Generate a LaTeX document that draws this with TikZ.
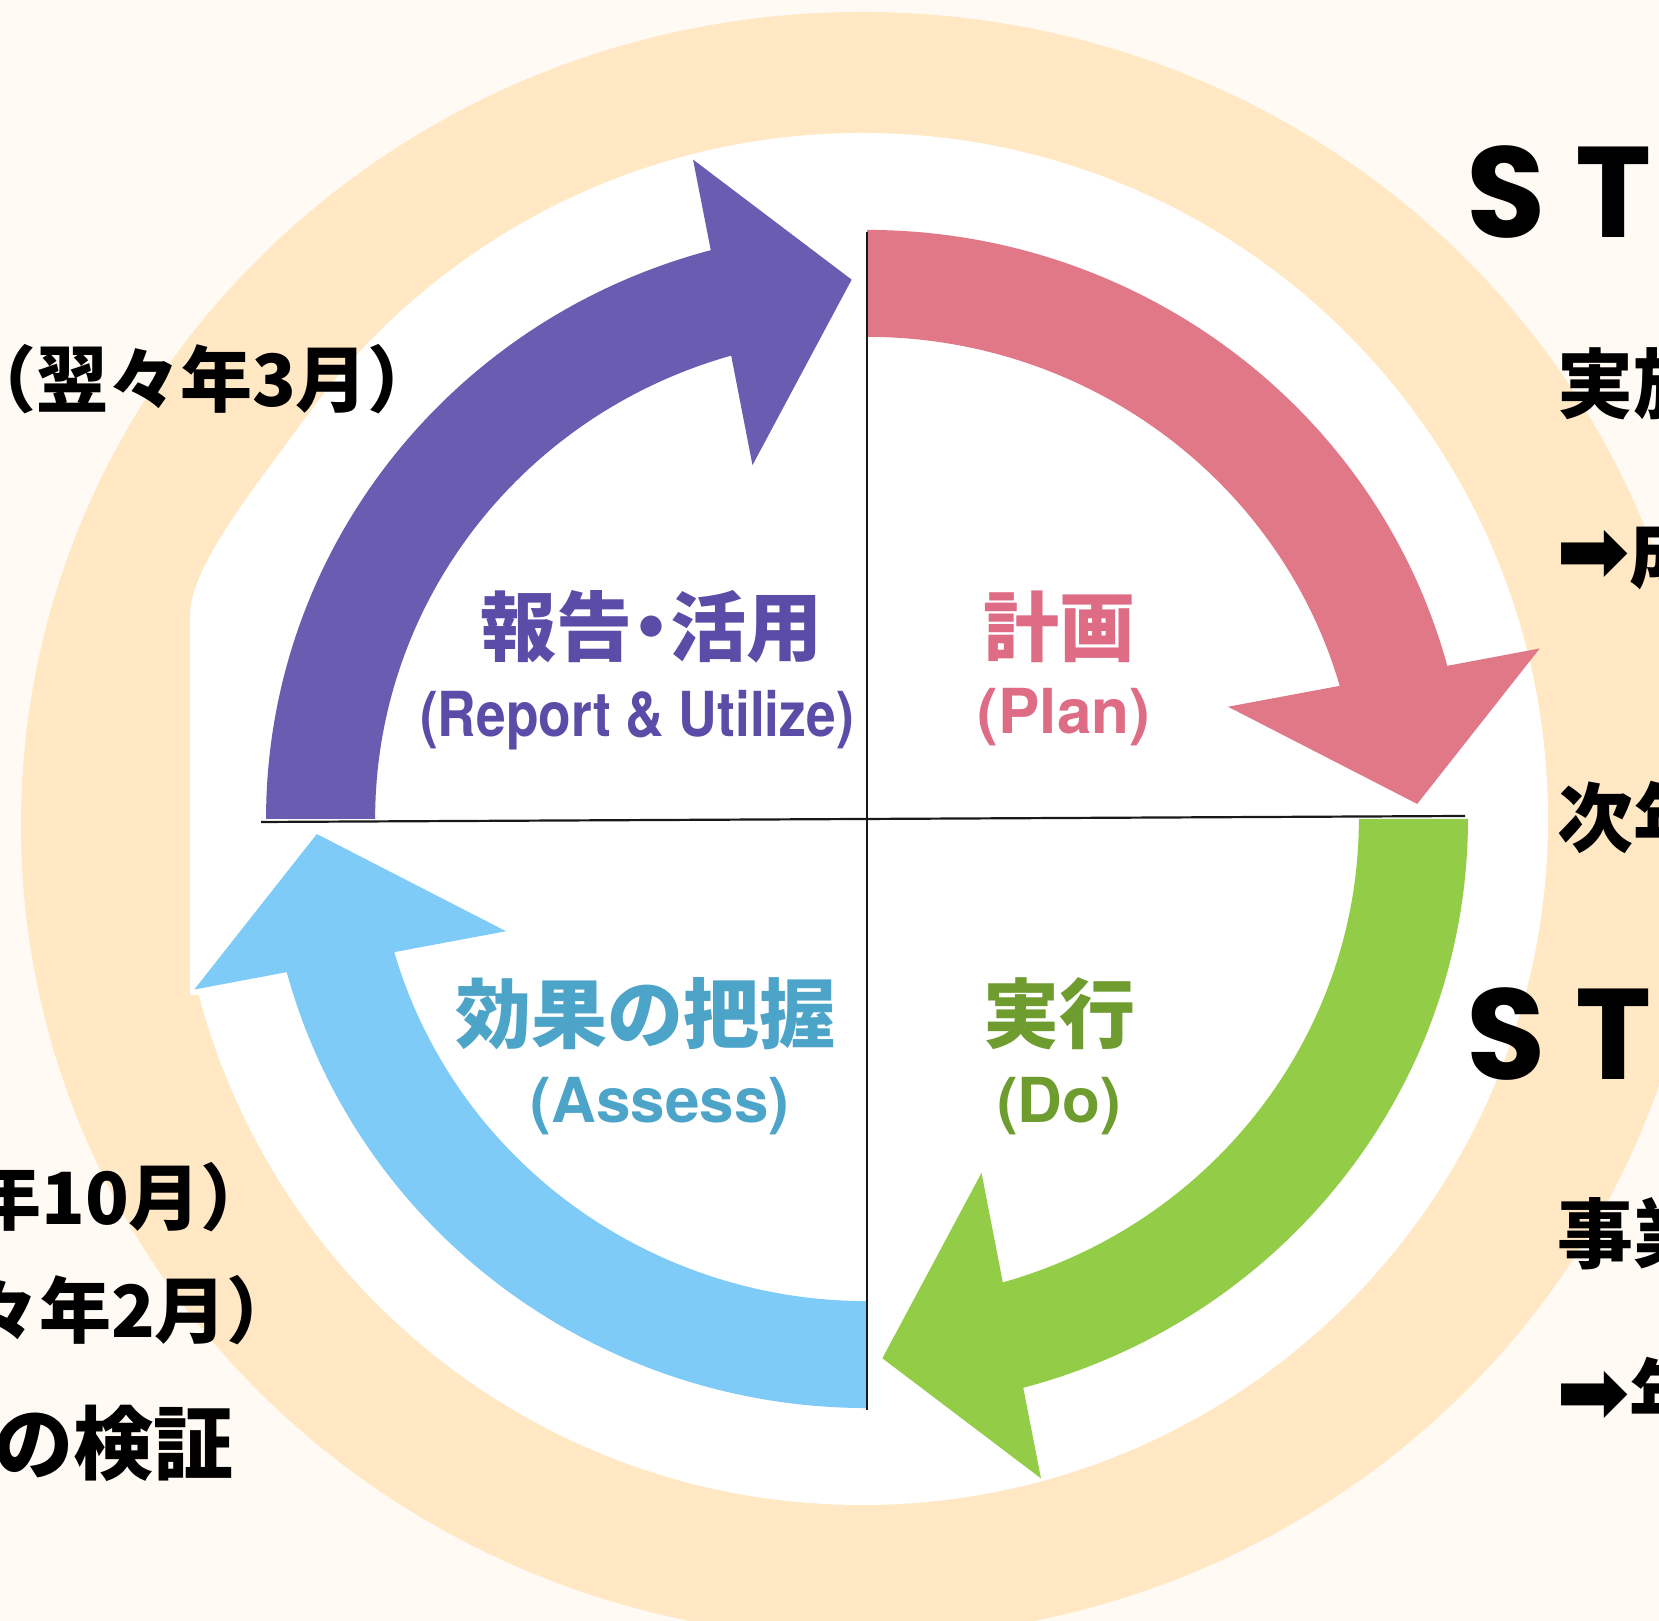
\documentclass[tikz,border=0pt]{standalone}
\usepackage{fontspec}
\usepackage{graphicx}
\newfontfamily\jp{Noto Sans CJK JP}
\newfontfamily\heros{TeX Gyre Heros}
\newfontfamily\pop{Poppins}
\newfontfamily\dejavu{DejaVu Sans}
\definecolor{cream}{HTML}{FFFAF3}
\definecolor{peach}{HTML}{FFE8C3}
\definecolor{pinkA}{HTML}{E07888}
\definecolor{purpleA}{HTML}{6A5CB0}
\definecolor{greenA}{HTML}{93CC46}
\definecolor{blueA}{HTML}{7ECBF7}
\definecolor{purpleT}{HTML}{5B4CA8}
\definecolor{pinkT}{HTML}{DE6C85}
\definecolor{blueT}{HTML}{4DA4C9}
\definecolor{greenT}{HTML}{6E9C2F}
\begin{document}
\begin{tikzpicture}[x=1pt,y=1pt,
  lbl/.style={inner sep=0pt, outer sep=0pt},
  sidetxt/.style={lbl, text=black, font=\jp\bfseries\fontsize{72}{72}\selectfont, anchor=base east},
  righttxt/.style={lbl, text=black, font=\jp\bfseries\fontsize{76}{76}\selectfont, anchor=base west},
  steptxt/.style={lbl, text=black, font=\pop\bfseries\fontsize{129}{129}\selectfont, anchor=base west},
  jplbl/.style={lbl, font=\jp\bfseries\fontsize{76}{76}\selectfont},
  enlbl/.style={lbl, font=\heros\bfseries\fontsize{62}{62}\selectfont},
  axisline/.style={line width=2.2pt, draw=black!90}
]
\useasboundingbox (0,0) rectangle (1659,1621);
\clip (0,0) rectangle (1659,1621);
\fill[cream] (0,0) rectangle (1659,1621);
% peach ring
\fill[peach] (862,796) ellipse [x radius=841, y radius=813];
% white inner area
\begin{scope}
  \clip (190,0) rectangle (1659,1621);
  \fill[white] (862,802) circle [radius=686];
\end{scope}
\fill[white] (304,1201) .. controls (263,1144) and (190,1056) .. (190,1006)
  -- (190,626) -- (400,626) -- (400,1201) -- cycle;
% four curved arrows
\begin{scope}[shift={(867,802)}, xscale=1.01, yscale=0.99]
  \foreach \rot/\col in {0/pinkA, 90/purpleA, -90/greenA, 180/blueA} {
    \begin{scope}[rotate=\rot]
      \fill[\col] (90:595) arc[start angle=90, end angle=15.07, radius=595]
        -- (14.5:688) -- (1.6:545) -- (17.6:375) -- (16.03:487)
        arc[start angle=16.03, end angle=90, radius=487] -- cycle;
    \end{scope}
  }
\end{scope}
% axes
\draw[axisline] (867,1389) -- (867,211);
\draw[axisline] (261,799) -- (1465,805);
% inner labels
\node[jplbl, text=purpleT] (act) at (651,994) {報告\kern-0.25em・\kern-0.25em活用};
\node[jplbl, text=pinkT] (plan) at (1059,994) {計画};
\node[jplbl, text=blueT] (check) at (645,607) {効果の把握};
\node[jplbl, text=greenT] (do) at (1059,607) {実行};
\node[enlbl, text=purpleT] (acten) at (637,901) {\scalebox{0.86}[1]{(Report \& Utilize)}};
\node[enlbl, text=pinkT] (planen) at (1064,904) {(Plan)};
\node[enlbl, text=blueT] (checken) at (660,515) {(Assess)};
\node[enlbl, text=greenT] (doen) at (1059,515) {(Do)};
% left side texts (cut by the edge)
\node[sidetxt] (l1) at (440,1214) {（翌々年3月）};
\node[sidetxt] (l2) at (273,396) {（翌年10月）};
\node[sidetxt] (l3) at (299,283) {（翌々年2月）};
\node[sidetxt, font=\jp\bfseries\fontsize{80}{80}\selectfont] (l4) at (234,147) {効果の検証};
% right side texts (cut by the edge)
\node[steptxt] (s1) at (1466,1383) {S\kern30pt T\kern30pt E\kern30pt P\kern30pt 1};
\node[righttxt] (r1) at (1557,1208) {実施時期};
\node[righttxt] (r2) at (1556,1039) {{\dejavu\fontsize{88}{88}\selectfont ➡}成果指標};
\node[righttxt] (r3) at (1557,774) {次年度};
\node[steptxt] (s2) at (1466,541) {S\kern30pt T\kern30pt E\kern30pt P\kern30pt 2};
\node[righttxt] (r4) at (1557,358) {事業の実施};
\node[righttxt] (r5) at (1556,198) {{\dejavu\fontsize{88}{88}\selectfont ➡}年度末};
\end{tikzpicture}
\end{document}
